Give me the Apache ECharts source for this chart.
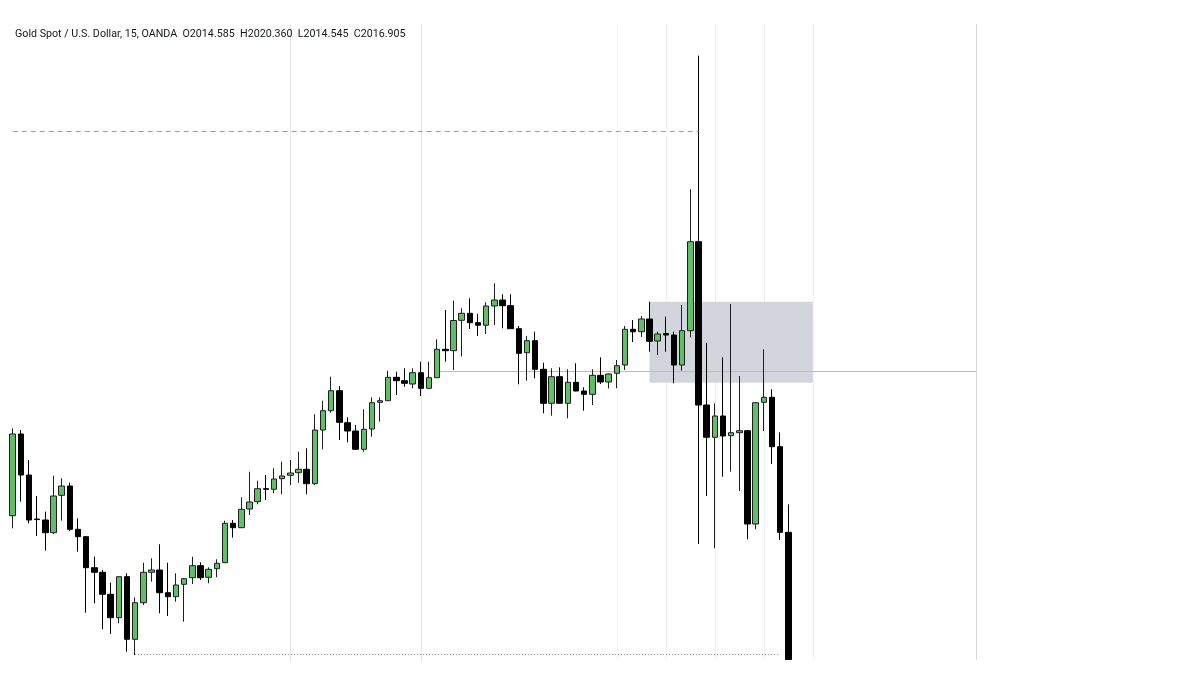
<!DOCTYPE html>
<html><head><meta charset="utf-8">
<script src="https://cdn.jsdelivr.net/npm/echarts@6/dist/echarts.min.js"></script>
<style>html,body{margin:0;padding:0;background:#fff}#c{width:1200px;height:675px}</style>
</head><body><div id="c"></div>
<script>
const titleText = 'Gold Spot / U.S. Dollar, 15, OANDA  O2014.585  H2020.360  L2014.545  C2016.905';

const opens = [
2008.43,2016.60,2012.50,2008.10,2008.00,2006.73,2010.47,2011.40,2007.07,2006.33,
2003.23,2002.77,2000.57,1998.23,2002.33,1996.07,1999.73,2002.77,2003.00,2000.73,
2000.33,2001.57,2002.23,2003.43,2002.27,2003.13,2003.73,2007.67,2007.23,2009.10,
2009.83,2011.13,2011.07,2012.13,2012.47,2012.73,2013.07,2011.63,2017.00,2018.93,
2020.93,2017.73,2016.90,2015.07,2017.10,2019.77,2019.93,2022.27,2021.93,2021.60,
2022.73,2021.17,2022.23,2025.07,2024.93,2027.97,2028.67,2027.73,2027.48,2029.40,
2030.00,2029.43,2027.13,2024.73,2025.93,2023.07,2019.67,2022.33,2019.67,2021.77,
2020.90,2020.57,2022.47,2021.80,2022.67,2023.50,2027.07,2026.83,2028.10,2025.90,
2026.65,2026.50,2023.50,2026.93,2035.83,2019.50,2016.27,2018.40,2016.43,2016.73,
2016.93,2007.60,2019.77,2020.27,2015.33,2006.77];

const closes = [
2016.60,2012.50,2008.00,2008.04,2006.73,2010.40,2011.40,2007.07,2006.33,2003.23,
2002.77,2000.57,1998.23,2002.33,1996.07,1999.73,2002.77,2003.00,2000.73,2000.33,
2001.50,2002.13,2003.43,2002.23,2003.07,2003.67,2007.67,2007.23,2009.07,2009.80,
2011.13,2011.07,2012.10,2012.40,2012.70,2013.07,2011.63,2017.00,2018.93,2020.93,
2017.77,2016.90,2015.07,2017.07,2019.73,2019.93,2022.27,2021.93,2021.67,2022.73,
2021.17,2022.23,2025.07,2024.93,2027.95,2028.67,2027.73,2027.48,2029.40,2030.00,
2029.43,2027.13,2024.67,2025.93,2023.07,2019.67,2022.33,2019.67,2021.77,2020.90,
2020.57,2022.47,2021.80,2022.60,2023.43,2027.07,2026.82,2028.10,2025.87,2026.60,
2026.50,2023.50,2026.93,2035.83,2019.50,2016.27,2018.40,2016.40,2016.73,2016.93,
2007.60,2019.73,2020.27,2015.33,2006.77,1994.05];

const lows = [
2007.17,2009.83,2007.67,2006.40,2004.93,2006.60,2007.93,2006.90,2004.83,1998.73,
1999.67,1997.07,1996.60,1997.67,1994.83,1994.50,1999.50,2001.83,1998.67,1998.40,
1999.83,1997.83,2001.60,2002.00,2001.67,2002.27,2003.70,2006.23,2007.20,2008.50,
2009.57,2010.00,2010.67,2010.57,2011.50,2011.73,2010.57,2011.50,2015.07,2018.73,
2016.00,2015.77,2015.00,2014.83,2016.33,2017.83,2019.90,2020.50,2021.33,2021.17,
2020.40,2021.15,2022.20,2023.83,2023.00,2024.35,2027.10,2026.40,2026.60,2027.50,
2027.17,2027.10,2021.57,2021.93,2022.17,2018.67,2018.43,2019.65,2018.17,2020.87,
2018.93,2019.50,2021.60,2021.15,2021.17,2023.00,2025.80,2026.30,2024.83,2024.50,
2024.83,2021.67,2022.93,2026.27,2005.60,2010.40,2005.17,2012.33,2012.83,2010.90,
2006.07,2007.07,2016.90,2013.60,2006.00,1994.05];

const highs = [
2017.17,2017.00,2014.00,2010.40,2008.83,2012.43,2012.17,2011.73,2008.17,2006.40,
2004.33,2003.00,2001.73,2002.33,2002.67,2000.27,2003.73,2004.17,2005.57,2003.73,
2002.67,2002.20,2004.33,2003.77,2003.27,2004.07,2007.93,2008.00,2010.27,2012.83,
2011.93,2012.50,2013.17,2013.83,2014.00,2014.83,2015.17,2018.57,2019.93,2022.33,
2021.40,2018.27,2017.50,2019.07,2020.27,2020.27,2022.93,2022.83,2023.17,2023.17,
2023.83,2023.83,2026.07,2029.00,2029.93,2029.17,2030.17,2028.62,2029.77,2031.67,
2030.57,2030.57,2027.40,2026.40,2026.83,2023.73,2023.17,2023.27,2023.07,2023.67,
2021.27,2023.07,2024.27,2022.65,2024.00,2027.40,2028.00,2028.40,2029.83,2026.83,
2028.33,2026.83,2029.50,2041.07,2054.43,2025.73,2019.67,2024.27,2029.60,2022.40,
2017.00,2019.75,2025.07,2021.07,2016.77,2009.57];

const totalSlots = 119;           // candles plus empty future slots
const gridLineIdx = [34, 50, 74, 80, 86, 92, 98, 118];
const redLevel = 2046.85, redFrom = 0, redTo = 84;
const blueLevel = 2022.85, blueFrom = 52, blueTo = 118;
const lowLevel = 1994.55, lowFrom = 15, lowTo = 94;
const zoneFrom = 78, zoneTo = 98, zoneTop = 2029.83, zoneBottom = 2021.73;
const yMin = 1994, yMax = 2057.6;

const categories = [];
for (let i = 0; i < totalSlots; i++) categories.push('b' + i);
const candleData = opens.map((o, i) => [o, closes[i], lows[i], highs[i]]);

function levelSeries(name, level, from, to, style, z) {
  return {
    name: name, type: 'line', z: z, silent: true,
    showSymbol: false, symbol: 'none',
    lineStyle: style, itemStyle: {color: style.color},
    emphasis: {disabled: true},
    data: [[from, level], [to, level]]
  };
}

const chart = echarts.init(document.getElementById('c'), null, {renderer: 'canvas'});
chart.setOption({
  animation: false,
  backgroundColor: '#ffffff',
  title: {
    text: titleText, left: 15, top: 29, padding: 0,
    textStyle: {fontFamily: 'Roboto', fontSize: 10.7, fontWeight: 'normal', color: '#131722'}
  },
  grid: {left: 12.7, right: 223.95, top: 24, bottom: 15},
  xAxis: {
    type: 'category', data: categories, boundaryGap: false,
    axisLine: {show: false}, axisTick: {show: false}, axisLabel: {show: false},
    splitLine: {
      show: true,
      interval: (idx) => gridLineIdx.includes(idx),
      lineStyle: {width: 1, color: ['#e4e6ec','#e4e6ec','#eff1f5','#f0f1f5','#f0f1f5','#f0f1f5','#f0f1f5','#d3d8e1']}
    }
  },
  yAxis: {
    type: 'value', min: yMin, max: yMax, show: false, splitLine: {show: false}
  },
  series: [
    levelSeries('support', blueLevel, blueFrom, blueTo, {color: '#b3bbe3', type: 'solid', width: 1}, 1),
    {
      type: 'candlestick',
      z: 3,
      data: candleData,
      barWidth: 6,
      itemStyle: {
        color: '#62bd69', color0: '#000000',
        borderColor: '#1f1f1f', borderColor0: '#000000', borderWidth: 1
      },
      markArea: {
        silent: true,
        itemStyle: {color: '#d2d5dc'},
        data: [[{coord: [zoneFrom, zoneTop]}, {coord: [zoneTo, zoneBottom]}]]
      }
    },
    levelSeries('high', redLevel, redFrom, redTo, {color: '#ee7a7a', type: [5, 4], width: 1}, 4),
    levelSeries('low', lowLevel, lowFrom, lowTo, {color: '#8a8a8a', type: [1, 2], width: 1}, 4)
  ]
});
</script></body></html>
